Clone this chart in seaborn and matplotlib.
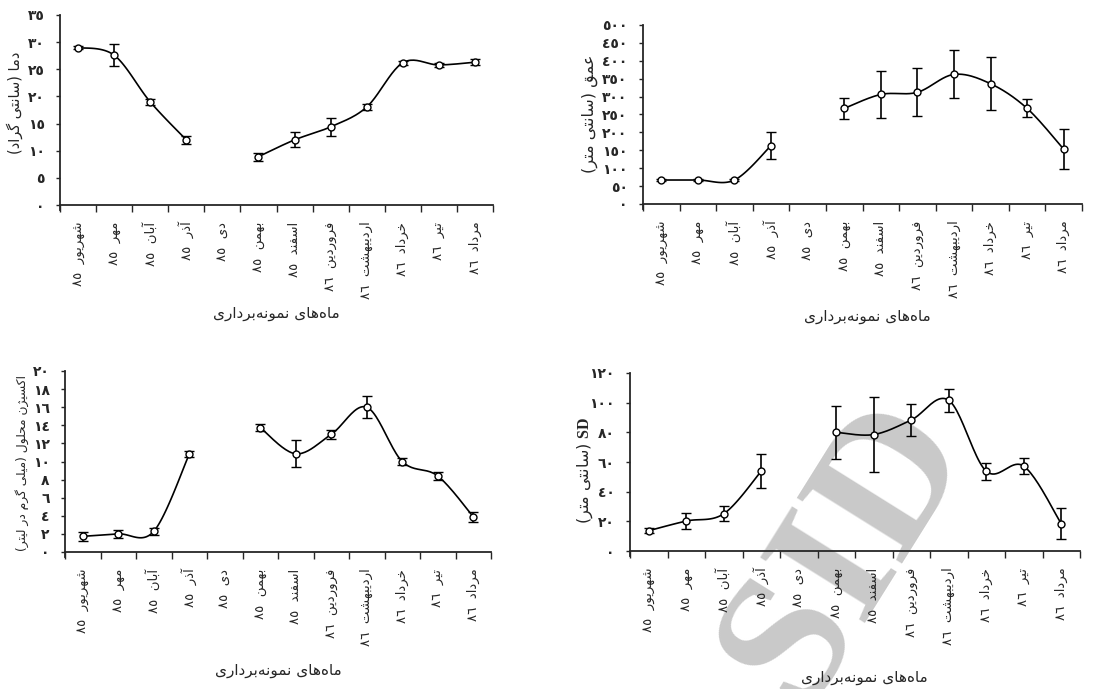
import numpy as np
import pandas as pd
import matplotlib
matplotlib.use("Agg")
import matplotlib.pyplot as plt
from matplotlib.ticker import FixedLocator, FuncFormatter
import seaborn as sns

# --- داده‌ها ---
months = ["شهریور", "مهر", "آبان", "آذر", "دی", "بهمن", "اسفند",
          "فروردین", "اردیبهشت", "خرداد", "تیر", "مرداد"]
years = ["۸۵"] * 7 + ["۸۶"] * 5

temp = [29.0, 27.6, 19.0, 12.0, np.nan, 8.9, 12.0, 14.4, 18.05, 26.2, 25.8, 26.3]
temp_err = [0.3, 2.0, 0.55, 0.8, np.nan, 0.75, 1.4, 1.7, 0.5, 0.4, 0.4, 0.55]

depth = [67, 67, 67, 163, np.nan, 267, 306, 312, 362, 336, 267, 153]
depth_err = [4, 4, 4, 37, np.nan, 29, 65, 67, 67, 74, 25, 56]

oxygen = [1.73, 2.0, 2.28, 10.8, np.nan, 13.75, 10.85, 13.0, 16.0, 10.0, 8.4, 3.9]
oxygen_err = [0.5, 0.45, 0.35, 0.35, np.nan, 0.35, 1.5, 0.5, 1.2, 0.4, 0.45, 0.55]

sd = [13.7, 20.2, 25.1, 53.8, np.nan, 80.0, 78.5, 88.3, 101.6, 53.8, 57.2, 18.4]
sd_err = [1.5, 5.4, 5.2, 11.5, np.nan, 17.7, 25.0, 10.9, 7.8, 5.6, 5.6, 10.3]

x_title = "ماه‌های نمونه‌برداری"

# --- شکل‌دهی حروف فارسی (matplotlib خودش انجام نمی‌دهد) ---
DUAL = {
    "ب": "\uFE8F\uFE90\uFE91\uFE92", "ت": "\uFE95\uFE96\uFE97\uFE98",
    "ج": "\uFE9D\uFE9E\uFE9F\uFEA0", "ح": "\uFEA1\uFEA2\uFEA3\uFEA4",
    "خ": "\uFEA5\uFEA6\uFEA7\uFEA8", "س": "\uFEB1\uFEB2\uFEB3\uFEB4",
    "ش": "\uFEB5\uFEB6\uFEB7\uFEB8", "ع": "\uFEC9\uFECA\uFECB\uFECC",
    "ف": "\uFED1\uFED2\uFED3\uFED4", "ق": "\uFED5\uFED6\uFED7\uFED8",
    "ک": "\uFB8E\uFB8F\uFB90\uFB91", "گ": "\uFB92\uFB93\uFB94\uFB95",
    "ل": "\uFEDD\uFEDE\uFEDF\uFEE0", "م": "\uFEE1\uFEE2\uFEE3\uFEE4",
    "ن": "\uFEE5\uFEE6\uFEE7\uFEE8", "ه": "\uFEE9\uFEEA\uFEEB\uFEEC",
    "ی": "\uFBFC\uFBFD\uFBFE\uFBFF",
}
RIGHT = {
    "ا": "\uFE8D\uFE8E", "آ": "\uFE81\uFE82", "د": "\uFEA9\uFEAA",
    "ذ": "\uFEAB\uFEAC", "ر": "\uFEAD\uFEAE", "ز": "\uFEAF\uFEB0",
    "ژ": "\uFB8A\uFB8B", "و": "\uFEED\uFEEE",
}
DIGITS = str.maketrans("۰۱۲۳۴۵۶۷۸۹0123456789", "٠١٢٣٤٥٦٧٨٩٠١٢٣٤٥٦٧٨٩")


def shape(s):
    out = []
    for i, c in enumerate(s):
        if c == "\u200c":
            continue
        if c not in DUAL and c not in RIGHT:
            out.append(c)
            continue
        prev = s[i - 1] if i > 0 else ""
        nxt = s[i + 1] if i + 1 < len(s) else ""
        jp = prev in DUAL
        jn = c in DUAL and (nxt in DUAL or nxt in RIGHT)
        if c in RIGHT:
            out.append(RIGHT[c][1] if jp else RIGHT[c][0])
        else:
            f = DUAL[c]
            out.append(f[3] if jp and jn else f[1] if jp else f[2] if jn else f[0])
    return "".join(out)


def fa(s):
    # ترتیب نمایشی چپ به راست
    s = shape(s.translate(DIGITS))
    runs, cur, ltr = [], "", None
    for c in s:
        is_ltr = (c.isascii() and c.isalnum()) or "\u0660" <= c <= "\u0669"
        if ltr is None or is_ltr == ltr:
            cur += c
        else:
            runs.append((ltr, cur))
            cur = c
        ltr = is_ltr
    runs.append((ltr, cur))
    vis = [r if is_ltr else r[::-1] for is_ltr, r in reversed(runs)]
    return "".join(vis).translate(str.maketrans("()", ")("))


def num_fa(v, pos=None):
    return str(int(round(v))).translate(DIGITS)


def smooth(xs, ys, n=24):
    # منحنی هموار به سبک اکسل (Catmull-Rom)
    p = np.column_stack([xs, ys])
    pts = []
    for i in range(len(p) - 1):
        p0 = p[i - 1] if i > 0 else p[i]
        p3 = p[i + 2] if i + 2 < len(p) else p[i + 1]
        c1 = p[i] + (p[i + 1] - p0) / 6
        c2 = p[i + 1] - (p3 - p[i]) / 6
        t = np.linspace(0, 1, n)[:, None]
        b = ((1 - t) ** 3) * p[i] + 3 * ((1 - t) ** 2) * t * c1 + 3 * (1 - t) * t ** 2 * c2 + t ** 3 * p[i + 1]
        pts.append(b if i == 0 else b[1:])
    return np.vstack(pts)


sns.set_style("ticks")
plt.rcParams["font.family"] = ["DejaVu Sans"]
plt.rcParams["mathtext.fontset"] = "custom"
plt.rcParams["mathtext.bf"] = "Liberation Serif:bold"

W, H = 1114, 689
fig = plt.figure(figsize=(W / 100, H / 100), dpi=100)

xt_labels = [fa(m + "  " + y) for m, y in zip(months, years)]

panels = [
    # (values, err, ymax, step, ylabel, ylabel size, left, right, top_px, zero_px, ylabel coords, xlabel coords)
    (temp, temp_err, 35, 5, "دما (سانتی گراد)", 10.5, 60, 493, 15, 205, (-0.085, 0.55), (0.5, -0.49)),
    (depth, depth_err, 500, 50, "عمق (سانتی متر)", 11.5, 643, 1082, 25, 204, (-0.103, 0.516), (0.51, -0.543)),
    (oxygen, oxygen_err, 20, 2, "اکسیژن محلول (میلی گرم در لیتر)", 8.8, 65, 491, 371, 552, (-0.085, 0.505), (0.5, -0.57)),
    (sd, sd_err, 120, 20, None, 11.5, 630, 1080, 373, 551, (-0.078, 0.47), (0.52, -0.623)),
]

for vals, errs, ymax, step, ylab, ysz, lpx, rpx, tpx, zpx, ylc, xlc in panels:
    ext = 5
    pad = ymax * ext / (zpx - tpx)
    ax = fig.add_axes([lpx / W, 1 - (zpx + ext) / H, (rpx - lpx) / W, (zpx + ext - tpx) / H])
    ax.set_facecolor("none")
    ax.set_xlim(-0.5, 11.5)
    ax.set_ylim(-pad, ymax)

    df = pd.DataFrame({"x": np.arange(12), "y": vals, "e": errs})
    ok = df["y"].notna()
    seg = (~ok).cumsum()
    for _, part in df[ok].groupby(seg[ok]):
        c = smooth(part["x"].values.astype(float), part["y"].values)
        sns.lineplot(x=c[:, 0], y=c[:, 1], ax=ax, color="black", lw=1.2, sort=False, zorder=2)

    ax.errorbar(df["x"], df["y"], yerr=df["e"], fmt="o", ms=5, mfc="white", mec="black",
                mew=1.0, ecolor="black", elinewidth=1.2, capsize=3.5, capthick=1.2, zorder=3)

    for s in ["top", "right"]:
        ax.spines[s].set_visible(False)
    ax.spines["bottom"].set_position(("data", 0))
    ax.spines["left"].set_linewidth(1.3)
    ax.spines["bottom"].set_linewidth(1.3)

    ax.yaxis.set_major_locator(FixedLocator(np.arange(0, ymax + step / 2, step)))
    ax.yaxis.set_major_formatter(FuncFormatter(num_fa))
    ax.tick_params(axis="y", length=3, width=1, pad=8, labelsize=10)
    for t in ax.get_yticklabels():
        t.set_fontweight("bold")

    ax.set_xticks(np.arange(12))
    ax.set_xticklabels(xt_labels, rotation=90, va="top", ha="center", fontsize=9.5)
    ax.tick_params(axis="x", which="major", length=0, pad=12)
    ax.xaxis.set_minor_locator(FixedLocator(np.arange(-0.5, 12, 1)))
    ax.tick_params(axis="x", which="minor", length=5, width=1, direction="out")

    ax.set_xlabel(fa(x_title), fontsize=11)
    ax.xaxis.set_label_coords(*xlc)
    if ylab is None:
        ax.set_ylabel(fa("(سانتی متر)") + " " + r"$\mathbf{SD}$", fontsize=ysz)
    else:
        ax.set_ylabel(fa(ylab), fontsize=ysz)
    ax.yaxis.set_label_coords(*ylc)

# واترمارک
fig.text(0.76, 0.2, "SID", rotation=58, fontsize=135, color="#c9c9c9", fontweight="bold",
         family="Liberation Serif", ha="center", va="center", zorder=-1)

fig.savefig("out.png", dpi=100, facecolor="white")
